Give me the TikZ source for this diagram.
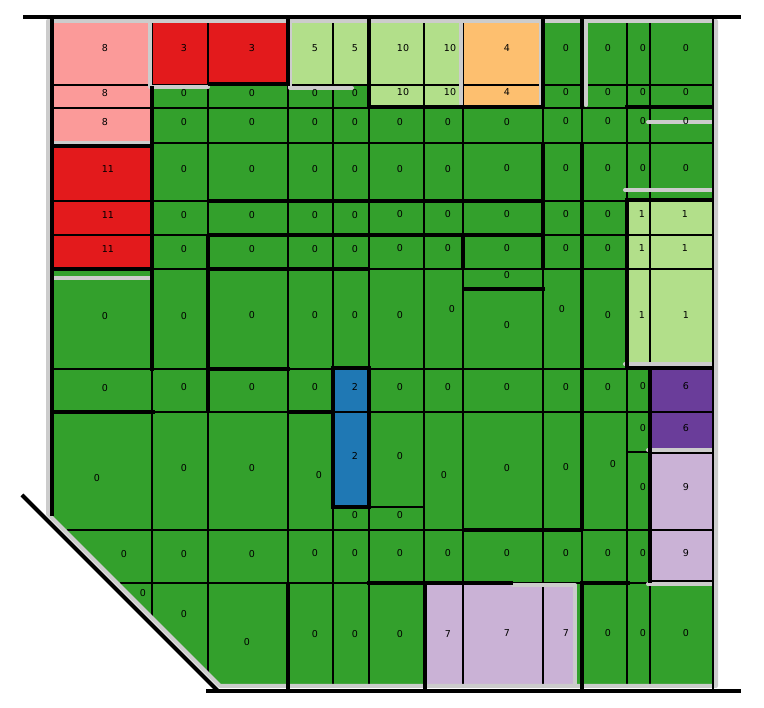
\documentclass[tikz,border=0pt]{standalone}
\usepackage{fontspec}
\setmainfont{DejaVu Sans}

\definecolor{vert}{HTML}{33A02C}
\definecolor{vertclair}{HTML}{B2DF8A}
\definecolor{rouge}{HTML}{E31A1C}
\definecolor{rose}{HTML}{FB9A99}
\definecolor{corange}{HTML}{FDBF6F}
\definecolor{bleu}{HTML}{1F78B4}
\definecolor{cviolet}{HTML}{6A3D9A}
\definecolor{clilas}{HTML}{CAB2D6}
\definecolor{gris}{HTML}{CCCCCC}

\tikzset{
cellline/.style={black,line width=1.3pt},
wallline/.style={black,line width=4pt},
zoneline/.style={gris,line width=4pt,line cap=round,line join=round},
lbl/.style={font=\fontsize{9.5}{11}\selectfont,inner sep=0pt}
}

\begin{document}
\begin{tikzpicture}[x=1pt,y=-1pt]

\useasboundingbox (0,0) rectangle (764,708);

% Surfaces
\fill[vert] (52,18) -- (713,18) -- (713,688) -- (222,688) -- (52,518) -- cycle;
\fill[rose] (52,18) rectangle (152,143);
\fill[rouge] (152,18) rectangle (288,84);
\fill[rouge] (52,143) rectangle (152,269);
\fill[vertclair] (288,18) rectangle (369,86);
\fill[vertclair] (369,18) rectangle (463,107);
\fill[corange] (463,18) rectangle (543,107);
\fill[vertclair] (627,201) rectangle (713,366);
\fill[bleu] (333,369) rectangle (369,507);
\fill[cviolet] (650,369) rectangle (713,449);
\fill[clilas] (650,449) rectangle (713,583);
\fill[clilas] (425,583) rectangle (577,688);

% Cases
\foreach \y in {85,108,143,201,235,269,369,412}
{
\draw[cellline] (52,\y) -- (713,\y);
}
\draw[cellline] (627,452) -- (650,452);
\draw[cellline] (369,507) -- (424,507);
\draw[cellline] (67,530) -- (713,530);
\draw[cellline] (120,583) -- (713,583);
\foreach \x/\b in {
152/616,208/672,288/688,333/688,369/688,424/688,
463/688,543/688,582/688,627/688,650/688}
{
\draw[cellline] (\x,18) -- (\x,\b);
}

% Zones
\draw[zoneline] (48,21) -- (716,21) -- (716,686) -- (220,686) -- (48,514) -- cycle;
\draw[zoneline] (150,21) -- (150,87) -- (208,87);
\draw[zoneline] (290,21) -- (290,88) -- (352,88);
\draw[zoneline] (461,21) -- (461,105);
\draw[zoneline] (541,21) -- (541,105);
\draw[zoneline] (586,21) -- (586,105);
\draw[zoneline] (48,143) -- (150,143);
\draw[zoneline] (48,278) -- (150,278);
\draw[zoneline] (648,122) -- (716,122);
\draw[zoneline] (625,190) -- (716,190);
\draw[zoneline] (625,364) -- (716,364);
\draw[zoneline] (648,450) -- (716,450);
\draw[zoneline] (648,584) -- (716,584);
\draw[zoneline] (513,585) -- (575,585) -- (575,686);

% Bord
\draw[wallline] (23,17) -- (741,17);
\draw[wallline] (206,691) -- (741,691);
\draw[wallline] (22,495) -- (218,691);
\draw[wallline] (52,17) -- (52,516);
\draw[black,line width=2.5pt] (713,17) -- (713,690);

% Murs
\draw[wallline] (152,86) -- (152,371);
\draw[wallline] (52,146) -- (152,146);
\draw[wallline] (52,269) -- (152,269);
\draw[wallline] (208,84) -- (288,84);
\draw[wallline] (288,18) -- (288,86);
\draw[wallline] (369,18) -- (369,108);
\draw[wallline] (369,107) -- (543,107);
\draw[wallline] (543,18) -- (543,107);
\draw[wallline] (582,18) -- (582,107);
\draw[wallline] (625,107) -- (713,107);
\draw[wallline] (543,143) -- (543,270);
\draw[wallline] (582,143) -- (582,531);
\draw[wallline] (208,201) -- (543,201);
\draw[wallline] (208,235) -- (543,235);
\draw[wallline] (625,200) -- (713,200);
\draw[wallline] (463,235) -- (463,270);
\draw[wallline] (208,235) -- (208,413);
\draw[wallline] (208,269) -- (370,269);
\draw[wallline] (463,289) -- (545,289);
\draw[wallline] (627,200) -- (627,369);
\draw[wallline] (625,368) -- (713,368);
\draw[wallline] (650,368) -- (650,583);
\draw[black,line width=2.5pt] (650,453) -- (713,453);
\draw[black,line width=2.5pt] (650,581) -- (713,581);
\draw[wallline] (208,369) -- (290,369);
\draw[wallline] (52,412) -- (155,412);
\draw[wallline] (287,412) -- (333,412);
\draw[wallline] (333,368) rectangle (369,507);
\draw[wallline] (463,530) -- (582,530);
\draw[wallline] (288,583) -- (288,690);
\draw[wallline] (367,583) -- (513,583);
\draw[wallline] (425,583) -- (425,690);
\draw[wallline] (582,583) -- (582,690);
\draw[wallline] (580,583) -- (630,583);

% Valeurs
\foreach \x/\y/\t [count=\i] in {
105/48/8,184/48/3,252/48/3,315/48/5,355/48/5,403/48/10,450/48/10,
507/48/4,566/48/0,608/48/0,643/48/0,686/48/0,
105/93/8,184/93/0,252/93/0,315/93/0,355/93/0,403/92/10,450/92/10,
507/92/4,566/92/0,608/92/0,643/92/0,686/92/0,
105/122/8,184/122/0,252/122/0,315/122/0,355/122/0,400/122/0,448/122/0,
507/122/0,566/121/0,608/121/0,643/121/0,686/121/0,
108/169/11,184/169/0,252/169/0,315/169/0,355/169/0,400/169/0,448/169/0,
507/168/0,566/168/0,608/168/0,643/168/0,686/168/0,
108/215/11,184/215/0,252/215/0,315/215/0,355/215/0,400/214/0,448/214/0,
507/214/0,566/214/0,608/214/0,642/214/1,685/214/1,
108/249/11,184/249/0,252/249/0,315/249/0,355/249/0,400/248/0,448/248/0,
507/248/0,566/248/0,608/248/0,642/248/1,685/248/1,
105/316/0,184/316/0,252/315/0,315/315/0,355/315/0,400/315/0,452/309/0,
507/275/0,507/325/0,562/309/0,608/315/0,642/315/1,686/315/1,
105/388/0,184/387/0,252/387/0,315/387/0,355/387/2,400/387/0,448/387/0,
507/387/0,566/387/0,608/387/0,643/386/0,686/386/6,
97/478/0,184/468/0,252/468/0,319/475/0,355/456/2,400/456/0,444/475/0,
507/468/0,566/467/0,613/464/0,643/428/0,686/428/6,643/487/0,686/487/9,
355/515/0,400/515/0,
124/554/0,184/554/0,252/554/0,315/553/0,355/553/0,400/553/0,448/553/0,
507/553/0,566/553/0,608/553/0,643/553/0,686/553/9,
143/593/0,184/614/0,247/642/0,315/634/0,355/634/0,400/634/0,448/634/7,
507/633/7,566/633/7,608/633/0,643/633/0,686/633/0}
{
\node[lbl] (v\i) at (\x,\y) {\t};
}

\end{tikzpicture}
\end{document}
